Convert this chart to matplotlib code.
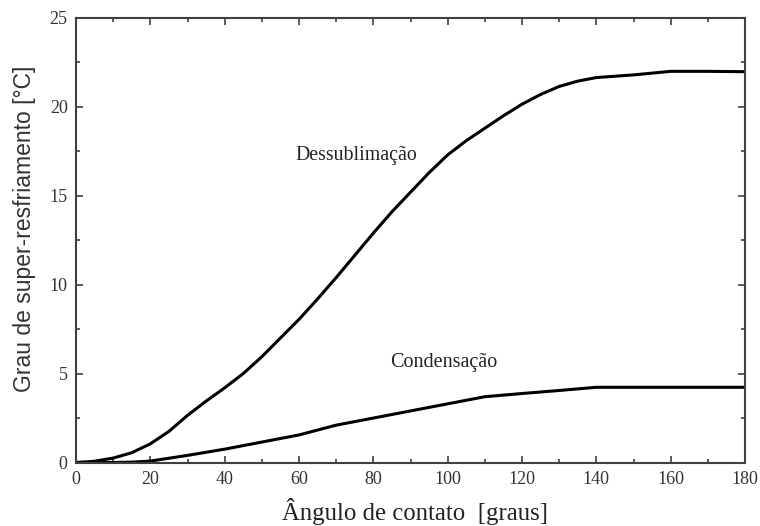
import matplotlib
matplotlib.use("Agg")
import matplotlib.pyplot as plt
from matplotlib.ticker import MultipleLocator

# Data
angle_des = [0, 5, 10, 15, 20, 25, 30, 35, 40, 45, 50, 55, 60, 65, 70, 75, 80, 85, 90,
             95, 100, 105, 110, 115, 120, 125, 130, 135, 140, 150, 160, 170, 180]
dessub = [0.0, 0.07, 0.25, 0.55, 1.05, 1.75, 2.65, 3.45, 4.2, 5.0, 5.95, 7.0, 8.05, 9.2,
          10.4, 11.65, 12.9, 14.1, 15.2, 16.3, 17.3, 18.1, 18.8, 19.5, 20.15, 20.7, 21.15, 21.45,
          21.65, 21.8, 22.0, 22.0, 21.98]

angle_cond = [0, 10, 15, 20, 30, 40, 50, 60, 70, 80, 90, 100, 110, 120, 130, 140, 160, 180]
cond = [0.0, 0.0, 0.02, 0.08, 0.4, 0.75, 1.15, 1.55, 2.1, 2.5, 2.9, 3.3, 3.7, 3.88, 4.05,
        4.23, 4.23, 4.23]

label_des = "Dessublimação"
label_cond = "Condensação"
xlabel = "Ângulo de contato  [graus]"
ylabel = "Grau de super-resfriamento [°C]"

fig = plt.figure(figsize=(7.6, 5.26), dpi=100)
ax = fig.add_axes([76 / 760, (526 - 462.5) / 526, 669 / 760, 444.5 / 526])

ax.plot(angle_des, dessub, color="black", lw=2.2, solid_capstyle="round", solid_joinstyle="round")
ax.plot(angle_cond, cond, color="black", lw=2.2, solid_capstyle="round", solid_joinstyle="round")

ax.set_xlim(0, 180)
ax.set_ylim(0, 25)
ax.xaxis.set_major_locator(MultipleLocator(20))
ax.xaxis.set_minor_locator(MultipleLocator(10))
ax.yaxis.set_major_locator(MultipleLocator(5))
ax.yaxis.set_minor_locator(MultipleLocator(2.5))

spine_col = "#404040"
for s in ax.spines.values():
    s.set_color(spine_col)
    s.set_linewidth(1.5)

ax.tick_params(which="both", direction="in", top=True, right=True, color=spine_col,
               width=1.2, labelcolor="#333333")
ax.tick_params(which="major", length=5, labelsize=13, pad=6)
ax.tick_params(which="minor", length=3)
for lab in ax.get_xticklabels() + ax.get_yticklabels():
    lab.set_family("Liberation Serif")

ax.set_xlabel(xlabel, family="Liberation Serif", fontsize=17.8, color="#222222", labelpad=8)
ax.xaxis.set_label_coords(0.5 + 5 / 669, -0.079)
ax.set_ylabel(ylabel, family="Liberation Sans", fontsize=16.5, color="#333333", labelpad=8)
ax.yaxis.set_label_coords(-0.060, 0.525)

ax.text(75.3, 17.25, label_des, family="Liberation Serif", fontsize=14.3, color="#222222",
        ha="center", va="center")
ax.text(99, 5.6, label_cond, family="Liberation Serif", fontsize=14.5, color="#222222",
        ha="center", va="center")

fig.savefig("out.png", dpi=100)
